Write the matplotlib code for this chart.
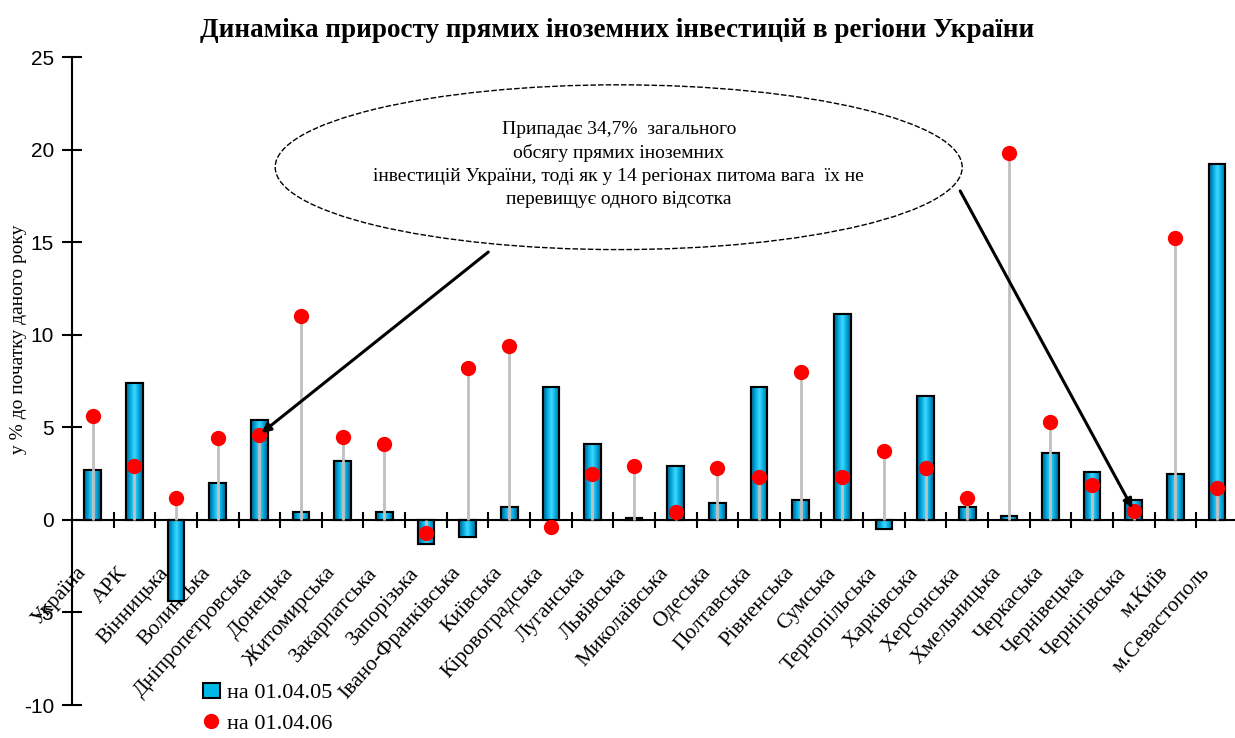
import numpy as np
import matplotlib
matplotlib.use("Agg")
import matplotlib.pyplot as plt
import matplotlib.transforms as mtransforms
from matplotlib.patches import Ellipse, Patch
from matplotlib.lines import Line2D
from matplotlib.colors import LinearSegmentedColormap

plt.rcParams["axes.unicode_minus"] = False

regions = ["Україна", "АРК", "Вінницька", "Волинська", "Дніпропетровська",
           "Донецька", "Житомирська", "Закарпатська", "Запорізька",
           "Івано-Франківська", "Київська", "Кіровоградська", "Луганська",
           "Львівська", "Миколаївська", "Одеська", "Полтавська", "Рівненська",
           "Сумська", "Тернопільська", "Харківська", "Херсонська",
           "Хмельницька", "Черкаська", "Чернівецька", "Чернігівська",
           "м.Київ", "м.Севастополь"]

# на 01.04.05 (bars)
growth_05 = [2.7, 7.4, -4.4, 2.0, 5.4, 0.4, 3.2, 0.4, -1.3, -0.9, 0.7, 7.2,
             4.1, 0.1, 2.9, 0.9, 7.2, 1.1, 11.1, -0.5, 6.7, 0.7, 0.2, 3.6,
             2.6, 1.1, 2.5, 19.2]
# на 01.04.06 (dots)
growth_06 = [5.6, 2.9, 1.2, 4.4, 4.6, 11.0, 4.5, 4.1, -0.7, 8.2, 9.4, -0.4,
             2.5, 2.9, 0.4, 2.8, 2.3, 8.0, 2.3, 3.7, 2.8, 1.2, 19.8, 5.3,
             1.9, 0.5, 15.2, 1.7]

yticks = [-10, -5, 0, 5, 10, 15, 20, 25]

serif = "Liberation Serif"

fig = plt.figure(figsize=(12.35, 7.38), dpi=100)
ax = fig.add_axes([0.0583, 0.0447, 0.944, 0.878])

x = np.arange(len(regions))
w = 0.4
bars = ax.bar(x, growth_05, width=w, color="#00B8E8", edgecolor="black",
              linewidth=1.5, zorder=2)

# cylinder-like shading inside each bar
cmap = LinearSegmentedColormap.from_list(
    "cyl", ["#005f8a", "#00a8dc", "#40d8ff", "#00a8dc", "#005f8a"])
grad = np.linspace(0, 1, 64).reshape(1, -1)
for b in bars:
    x0, y0 = b.get_x(), b.get_y()
    bw, bh = b.get_width(), b.get_height()
    im = ax.imshow(grad, cmap=cmap, aspect="auto", zorder=2.1,
                   extent=[x0, x0 + bw, y0, y0 + bh])
    im.set_clip_path(b)
    ax.add_patch(plt.Rectangle((x0, y0), bw, bh, fill=False,
                               edgecolor="black", linewidth=1.5, zorder=2.2))

# drop lines from axis to dots
ax.vlines(x, 0, growth_06, color="#c0c0c0", linewidth=2, zorder=3)
ax.plot(x, growth_06, "o", color="red", markersize=10, zorder=4)

ax.set_xlim(-0.5, len(regions) - 0.5)
ax.set_ylim(-10, 25)
ax.set_yticks(yticks)
ax.tick_params(axis="y", direction="inout", length=14, width=1.5,
               labelsize=15, pad=6)
for t in ax.get_yticklabels():
    t.set_fontfamily("Liberation Sans")

ax.spines["top"].set_visible(False)
ax.spines["right"].set_visible(False)
ax.spines["left"].set_linewidth(1.5)
ax.spines["bottom"].set_position(("data", 0))
ax.spines["bottom"].set_linewidth(1.5)
ax.set_xticks(x)
ax.set_xticks(x[:-1] + 0.5, minor=True)
ax.tick_params(axis="x", which="major", length=0, pad=36)
ax.tick_params(axis="x", which="minor", direction="inout", length=12,
               width=1.5)
ax.set_xticklabels(regions, rotation=48, ha="right", va="center",
                   rotation_mode="anchor", fontfamily=serif, fontsize=15.5)
shift = mtransforms.ScaledTranslation(-10 / 100, 0, fig.dpi_scale_trans)
for t in ax.get_xticklabels():
    t.set_zorder(1)
    t.set_transform(t.get_transform() + shift)

fig.text(0.5, 0.958, "Динаміка приросту прямих іноземних інвестицій в регіони України",
         ha="center", va="center", fontfamily=serif, fontweight="bold",
         fontsize=19.5)
fig.text(0.015, 0.54, "у % до початку даного року", rotation=90,
         ha="center", va="center", fontfamily=serif, fontsize=14)

# callout
ell = Ellipse((12.63, 19.05), 16.5, 8.9, facecolor="white",
              edgecolor="black", linestyle=(0, (4, 1.5)), linewidth=1,
              zorder=5)
ax.add_patch(ell)
ax.text(12.63, 19.2,
        "Припадає 34,7%  загального\nобсягу прямих іноземних\n"
        "інвестицій України, тоді як у 14 регіонах питома вага  їх не\n"
        "перевищує одного відсотка",
        ha="center", va="center", fontfamily=serif, fontsize=14,
        linespacing=1.45, zorder=6)
arrow = dict(arrowstyle="-|>", color="black", lw=2.2, mutation_scale=13)
ax.annotate("", xy=(4, growth_06[4]), xytext=(9.55, 14.56),
            arrowprops=arrow, zorder=6)
ax.annotate("", xy=(25, growth_06[25]), xytext=(20.8, 17.9),
            arrowprops=arrow, zorder=6)

handles = [Patch(facecolor="#00B8E8", edgecolor="black", linewidth=1.5),
           Line2D([], [], marker="o", color="red", linestyle="none",
                  markersize=10)]
fig.legend(handles, ["на 01.04.05", "на 01.04.06"], loc="upper left",
           bbox_to_anchor=(0.155, 0.09), frameon=False,
           prop={"family": serif, "size": 16}, handlelength=0.8,
           handletextpad=0.3, labelspacing=0.45, borderpad=0)

fig.savefig("out.png", dpi=100)
